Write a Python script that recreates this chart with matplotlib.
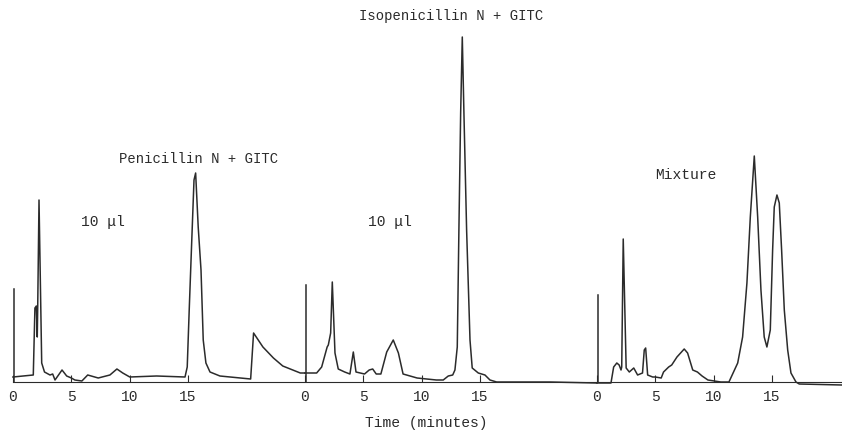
import matplotlib.pyplot as plt

# panel offsets on a shared time axis (minutes)
offsets = [0, 25, 50]

# penicillin N + GITC trace (time, signal)
pen_t = [0.0, 1.74, 1.88, 2.0, 2.08, 2.12, 2.23, 2.46, 2.7, 3.17, 3.4, 3.6, 4.2, 4.6, 5.0, 5.3,
         5.9, 6.4, 7.3, 8.3, 8.9, 9.4, 10.0, 12.3, 14.73, 14.92, 15.09, 15.3, 15.5, 15.64,
         15.86, 16.1, 16.29, 16.52, 16.87, 17.72, 20.35, 20.6, 21.4, 22.3, 23.1, 24.6, 25.0]
pen_y = [5, 7, 74, 76, 45, 76, 182, 19, 10, 7, 8, 2, 12, 6, 4, 2,
         1, 7, 4, 7, 13, 9, 5, 6, 5, 15, 72, 139, 202, 209,
         155, 112, 42, 19, 10, 6, 3, 49, 35, 24, 16, 9, 9]

# isopenicillin N + GITC trace (local time)
iso_t = [0.0, 1.0, 1.43, 1.9, 2.0, 2.2, 2.34, 2.57, 2.85, 3.4, 3.85, 4.14, 4.37, 5.1, 5.5,
         5.8, 6.1, 6.5, 7.0, 7.56, 8.0, 8.4, 9.6, 11.25, 11.84, 12.27, 12.65, 12.84, 13.04,
         13.18, 13.33, 13.47, 13.61, 13.84, 14.13, 14.32, 14.84, 15.41, 15.84, 16.41, 21.0, 25.0]
iso_y = [9, 9, 15, 35, 37, 49, 100, 29, 13, 10, 8, 30, 10, 8, 12,
         13, 8, 8, 30, 42, 29, 8, 4, 2, 2, 6, 7, 12, 35,
         152, 269, 345, 269, 152, 42, 14, 9, 7, 2, 0, 0, -1]

# mixture trace (local time)
mix_t = [0.0, 0.77, 1.2, 1.43, 1.7, 1.9, 2.06, 2.12, 2.25, 2.5, 2.77, 3.15, 3.48, 3.9,
         4.05, 4.17, 4.34, 4.77, 5.0, 5.5, 5.7, 6.14, 6.4, 6.85, 7.47, 7.76, 8.2, 8.6,
         9.0, 9.5, 10.6, 11.3, 12.05, 12.47, 12.84, 13.13, 13.47, 13.76, 14.04, 14.32,
         14.55, 14.84, 15.04, 15.18, 15.41, 15.61, 15.81, 16.04, 16.33, 16.61, 17.04,
         17.32, 21.0]
mix_y = [-1, -1, -1, 15, 19, 17, 12, 15, 143, 14, 10, 14, 7, 9,
         32, 34, 7, 5, 5, 4, 10, 15, 17, 25, 33, 29, 12, 10,
         6, 2, 0, 0, 19, 45, 99, 165, 226, 165, 92, 45,
         35, 52, 132, 175, 187, 179, 132, 72, 32, 9, 0,
         -2, -3]

inject_h = [93, 97, 87]
tick_vals = [0, 5, 10, 15]

fig = plt.figure(figsize=(8.42, 4.32), dpi=100)
ax = fig.add_axes([0, 0, 1, 1])
col = '#2b2b2b'
mono = 'Liberation Mono'

for off, t, y in zip(offsets, [pen_t, iso_t, mix_t], [pen_y, iso_y, mix_y]):
    ax.plot([off + v for v in t], y, color=col, lw=1.1)
for off, h in zip(offsets, inject_h):
    ax.plot([off + 0.05, off + 0.05], [0, h], color=col, lw=1.1)

ax.set_xlim(-1.11, 70.98)
ax.set_ylim(-50, 382)
for s in ['top', 'right', 'left']:
    ax.spines[s].set_visible(False)
ax.spines['bottom'].set_position(('data', 0))
ax.spines['bottom'].set_bounds(0, 71)
ax.spines['bottom'].set_color(col)
ax.set_yticks([])
ticks = [off + v for off in offsets for v in tick_vals]
ax.set_xticks(ticks)
ax.set_xticklabels([str(v) for off in offsets for v in tick_vals], fontfamily=mono, fontsize=10.5)
ax.tick_params(axis='x', direction='in', length=5, pad=6, colors=col)

ax.text(15.85, 223, 'Penicillin N + GITC', ha='center', va='center', fontfamily=mono, fontsize=10, color=col)
ax.text(37.5, 366, 'Isopenicillin N + GITC', ha='center', va='center', fontfamily=mono, fontsize=10, color=col)
ax.text(7.66, 160, '10 μl', ha='center', va='center', fontfamily=mono, fontsize=10.5, color=col)
ax.text(32.3, 160, '10 μl', ha='center', va='center', fontfamily=mono, fontsize=10.5, color=col)
ax.text(57.6, 207, 'Mixture', ha='center', va='center', fontfamily=mono, fontsize=10.5, color=col)
ax.text(35.4, -41, 'Time (minutes)', ha='center', va='center', fontfamily=mono, fontsize=10.5, color=col)

fig.savefig('out.png', dpi=100)
